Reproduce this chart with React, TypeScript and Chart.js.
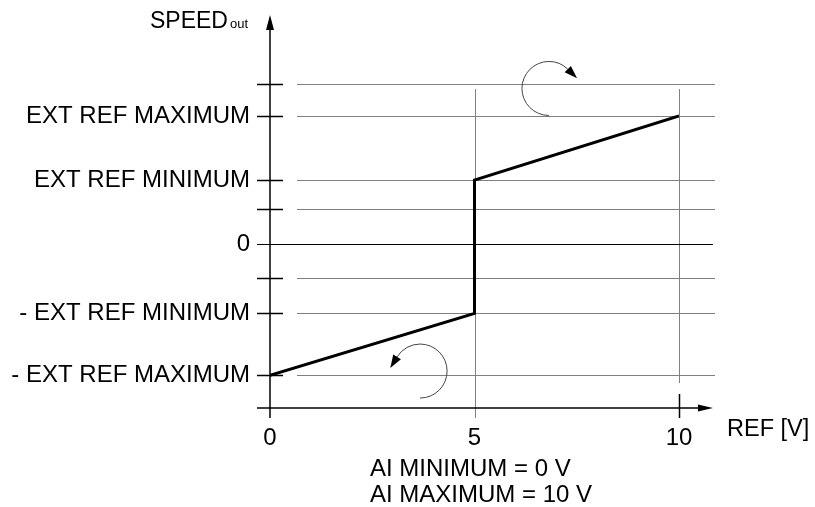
import React, { useEffect, useRef } from "react";
import { Chart, registerables } from "chart.js";

Chart.register(...registerables);

// ---- data (speed axis in arbitrary reference units) ----
const refVolts = [0, 5, 5, 10];
const speedOut = [-4.1, -2.17, 2.0, 4.0];

const xTickValues = [0, 5, 10];
const yTickValues = [-4.1, -2.17, 0, 2.0, 4.0];
const yTickLabels = ["- EXT REF MAXIMUM", "- EXT REF MINIMUM", "0", "EXT REF MINIMUM", "EXT REF MAXIMUM"];
const gridLevels = [5.0, 4.0, 2.0, 1.1, -1.05, -2.17, -4.1];
const guideColumns = [5, 10];

const xAxisTitle = "REF [V]";
const yAxisTitle = "SPEED";
const yAxisTitleSub = "out";
const noteLines = ["AI MINIMUM = 0 V", "AI MAXIMUM = 10 V"];

// scale ranges
const X_MIN = 0;
const X_MAX = 10;
const Y_MIN = -5.125;
const Y_MAX = 7.156;

// rotation hint arrows: centre in data units
const arrowTopCenter = { x: 6.82, y: 4.86 };
const arrowBottomCenter = { x: 3.67, y: -3.97 };

const FONT = "'Liberation Sans', Arial, Helvetica, sans-serif";

function seg(ctx: CanvasRenderingContext2D, x1: number, y1: number, x2: number, y2: number) {
  ctx.beginPath();
  ctx.moveTo(x1, y1);
  ctx.lineTo(x2, y2);
  ctx.stroke();
}

function curvedArrow(
  ctx: CanvasRenderingContext2D,
  cx: number,
  cy: number,
  r: number,
  a0: number,
  a1: number,
  ccw: boolean
) {
  ctx.save();
  ctx.strokeStyle = "#444";
  ctx.lineWidth = 1;
  ctx.beginPath();
  ctx.arc(cx, cy, r, a0, a1, ccw);
  ctx.stroke();
  const ex = cx + r * Math.cos(a1);
  const ey = cy + r * Math.sin(a1);
  let tx = -Math.sin(a1);
  let ty = Math.cos(a1);
  if (ccw) {
    tx = -tx;
    ty = -ty;
  }
  const len = 13;
  const hw = 4.5;
  const nx = -ty;
  const ny = tx;
  ctx.fillStyle = "#000";
  ctx.beginPath();
  ctx.moveTo(ex + tx * len, ey + ty * len);
  ctx.lineTo(ex + nx * hw, ey + ny * hw);
  ctx.lineTo(ex - nx * hw, ey - ny * hw);
  ctx.closePath();
  ctx.fill();
  ctx.restore();
}

const decorPlugin = {
  id: "decor",
  beforeDatasetsDraw(chart: any) {
    const { ctx } = chart;
    const xs = chart.scales.x;
    const ys = chart.scales.y;
    const X = (v: number) => xs.getPixelForValue(v);
    const Y = (v: number) => ys.getPixelForValue(v);
    const ay = Y(Y_MIN);
    ctx.save();
    // gray horizontal grid lines
    ctx.strokeStyle = "#808080";
    ctx.lineWidth = 1;
    for (const lv of gridLevels) {
      const y = Math.round(Y(lv)) + 0.5;
      seg(ctx, X(0.66), y, X(10.88), y);
    }
    // vertical guides
    for (const c of guideColumns) {
      const x = Math.round(X(c)) + 0.5;
      const bottom = c === 10 ? ay - 25 : ay + 10;
      seg(ctx, x, Y(4.84), x, bottom);
    }
    // zero line
    ctx.strokeStyle = "#000";
    const y0 = Math.round(Y(0)) + 0.5;
    seg(ctx, X(0) - 13, y0, X(10.83), y0);
    ctx.restore();
  },
  afterDatasetsDraw(chart: any) {
    const { ctx } = chart;
    const xs = chart.scales.x;
    const ys = chart.scales.y;
    const X = (v: number) => xs.getPixelForValue(v);
    const Y = (v: number) => ys.getPixelForValue(v);
    const ax = X(0);
    const ay = Y(Y_MIN);
    const top = Y(Y_MAX);
    ctx.save();
    ctx.strokeStyle = "#000";
    ctx.fillStyle = "#000";
    // y-axis tick marks
    ctx.lineWidth = 1.5;
    for (const lv of gridLevels) {
      const y = Math.round(Y(lv)) + 0.5;
      seg(ctx, ax - 13, y, ax + 13, y);
    }
    // y axis
    seg(ctx, ax, ay + 10, ax, top + 12);
    ctx.beginPath();
    ctx.moveTo(ax, top);
    ctx.lineTo(ax - 4, top + 15);
    ctx.lineTo(ax + 4, top + 15);
    ctx.closePath();
    ctx.fill();
    // x axis
    const xEnd = X(10.83);
    seg(ctx, ax - 13, ay, xEnd - 12, ay);
    ctx.beginPath();
    ctx.moveTo(xEnd, ay);
    ctx.lineTo(xEnd - 15, ay - 3.5);
    ctx.lineTo(xEnd - 15, ay + 3.5);
    ctx.closePath();
    ctx.fill();
    // tick at 10
    const x10 = Math.round(X(10)) + 0.5;
    seg(ctx, x10, ay - 14, x10, ay + 10);

    // rotation arrows
    curvedArrow(ctx, X(arrowTopCenter.x), Y(arrowTopCenter.y), 27, Math.PI / 2, 2 * Math.PI - 0.8, false);
    curvedArrow(ctx, X(arrowBottomCenter.x), Y(arrowBottomCenter.y), 27, Math.PI / 2, -Math.PI + 0.55, true);

    // texts
    ctx.textBaseline = "alphabetic";
    ctx.textAlign = "left";
    ctx.font = `23px ${FONT}`;
    ctx.fillText(yAxisTitle, 150, 28);
    const w = ctx.measureText(yAxisTitle).width;
    ctx.font = `13px ${FONT}`;
    ctx.fillText(yAxisTitleSub, 150 + w + 2, 28);
    ctx.font = `23.5px ${FONT}`;
    ctx.fillText(xAxisTitle, 727, 436);
    ctx.font = `24px ${FONT}`;
    ctx.fillText(noteLines[0], 370, 476);
    ctx.fillText(noteLines[1], 370, 502);
    ctx.restore();
  },
};

export default function App() {
  const canvasRef = useRef<HTMLCanvasElement | null>(null);

  useEffect(() => {
    const canvas = canvasRef.current;
    if (!canvas) return;
    const points = refVolts.map((x, i) => ({ x, y: speedOut[i] }));
    const chart = new Chart(canvas, {
      type: "line",
      data: {
        datasets: [
          {
            data: points,
            borderColor: "#000",
            borderWidth: 3,
            pointRadius: 0,
            fill: false,
            tension: 0,
            borderJoinStyle: "miter",
          },
        ],
      },
      options: {
        animation: false,
        responsive: false,
        devicePixelRatio: 1,
        layout: { padding: { left: 0, top: 15, right: 136, bottom: 0 } },
        plugins: { legend: { display: false }, tooltip: { enabled: false } },
        scales: {
          x: {
            type: "linear",
            min: X_MIN,
            max: X_MAX,
            grid: { display: false, drawTicks: false },
            border: { display: false },
            afterBuildTicks: (scale: any) => {
              scale.ticks = xTickValues.map((v) => ({ value: v }));
            },
            afterFit: (scale: any) => {
              scale.height = 99;
              scale.paddingLeft = 0;
              scale.paddingRight = 0;
              scale.paddingTop = 0;
              scale.paddingBottom = 0;
            },
            ticks: {
              autoSkip: false,
              maxRotation: 0,
              padding: 16,
              color: "#000",
              font: { family: FONT, size: 24 },
              callback: (v: any) => String(v),
            },
          },
          y: {
            type: "linear",
            min: Y_MIN,
            max: Y_MAX,
            grid: { display: false, drawTicks: false },
            border: { display: false },
            afterBuildTicks: (scale: any) => {
              scale.ticks = yTickValues.map((v) => ({ value: v }));
            },
            afterFit: (scale: any) => {
              scale.width = 270;
              scale.paddingLeft = 0;
              scale.paddingRight = 0;
              scale.paddingTop = 0;
              scale.paddingBottom = 0;
            },
            ticks: {
              autoSkip: false,
              padding: 20,
              color: "#000",
              font: { family: FONT, size: 24 },
              callback: (v: any) => {
                const i = yTickValues.indexOf(Number(v));
                return i >= 0 ? yTickLabels[i] : "";
              },
            },
          },
        },
      },
      plugins: [decorPlugin],
    } as any);
    return () => chart.destroy();
  }, []);

  return (
    <div style={{ position: "fixed", left: 0, top: 0, width: 815, height: 507, background: "#fff" }}>
      <canvas ref={canvasRef} width={815} height={507} style={{ display: "block" }} />
    </div>
  );
}
